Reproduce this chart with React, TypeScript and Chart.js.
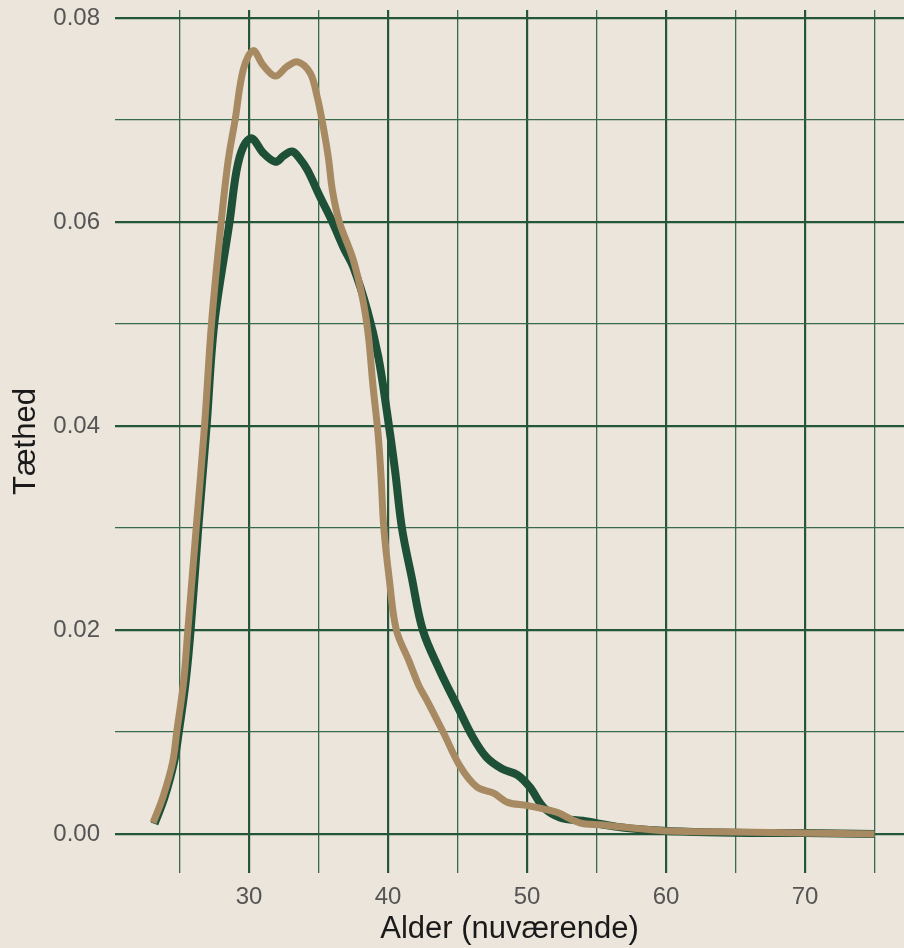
import React, { useEffect, useRef } from "react";
import { Chart, registerables } from "chart.js";

Chart.register(...registerables);

// Ages (x) and densities (y)
const tanAge = [23.1, 23.8, 24.5, 24.8, 25.3, 25.6, 26.2, 26.8, 27.3, 28.0, 28.5, 29.0, 29.6, 30.3, 31.0, 31.9, 32.7, 33.5, 34.4, 34.9, 35.25, 35.7, 36.0, 36.5, 37.5, 38.2, 38.6, 38.9, 39.3, 39.5, 39.7, 40.1, 40.6, 41.5, 42.2, 42.8, 44.0, 45.2, 46.4, 47.6, 48.6, 50.0, 51.4, 52.2, 53.8, 55.3, 57.6, 60.1, 65, 70, 75];
const tanDensity = [0.0011, 0.0036, 0.007, 0.01, 0.015, 0.02, 0.03, 0.04, 0.05, 0.06, 0.066, 0.07, 0.075, 0.0768, 0.0754, 0.0743, 0.0752, 0.0757, 0.0746, 0.0723, 0.07, 0.0664, 0.0631, 0.06, 0.0563, 0.0523, 0.0487, 0.0442, 0.039, 0.035, 0.03, 0.0249, 0.02, 0.017, 0.0146, 0.0131, 0.0099, 0.0066, 0.0046, 0.004, 0.0031, 0.0028, 0.0024, 0.0021, 0.0011, 0.0009, 0.0006, 0.0003, 0.0002, 0.0001, 0.0];

const greenAge = [23.2, 23.9, 24.6, 24.95, 25.45, 25.8, 26.35, 26.95, 27.5, 28.6, 29.1, 29.6, 30.2, 31.0, 31.9, 32.5, 33.1, 33.6, 34.2, 35.1, 36.0, 36.8, 37.5, 38.5, 39.3, 39.9, 40.5, 41.0, 41.7, 42.5, 43.7, 45.0, 46.1, 47.1, 48.2, 49.3, 50.2, 51.2, 52.4, 54.0, 56.5, 58.8, 62, 66, 70, 75];
const greenDensity = [0.001, 0.0035, 0.007, 0.01, 0.015, 0.02, 0.03, 0.04, 0.05, 0.06, 0.065, 0.0674, 0.0682, 0.0668, 0.0659, 0.0665, 0.0669, 0.0663, 0.0651, 0.0625, 0.06, 0.0575, 0.0556, 0.0514, 0.0468, 0.0416, 0.0357, 0.03, 0.0252, 0.02, 0.0161, 0.0125, 0.0095, 0.0075, 0.0064, 0.0058, 0.0046, 0.0026, 0.0016, 0.0013, 0.0007, 0.0004, 0.0002, 0.0001, 0.0001, 0.0];

const xTicks = [25, 30, 35, 40, 45, 50, 55, 60, 65, 70, 75];
const yTicks = [0, 0.01, 0.02, 0.03, 0.04, 0.05, 0.06, 0.07, 0.08];

const xTitle = "Alder (nuværende)";
const yTitle = "Tæthed";

const BG = "#EBE5DB";
const TAN = "#A88A62";
const GREEN = "#1E5037";
const GRID_MAJOR = "#245639";
const GRID_MINOR = "#3A6A4D";

export default function App() {
  const ref = useRef<HTMLCanvasElement | null>(null);

  useEffect(() => {
    document.body.style.margin = "0";
    document.body.style.background = BG;
    const canvas = ref.current;
    if (!canvas) return;

    const toPts = (xs: number[], ys: number[]) => xs.map((x, i) => ({ x, y: ys[i] }));

    const chart = new Chart(canvas, {
      type: "line",
      data: {
        datasets: [
          {
            label: "tan",
            data: toPts(tanAge, tanDensity),
            borderColor: TAN,
            borderWidth: 7,
            pointRadius: 0,
            tension: 0.35,
            borderJoinStyle: "round",
            fill: false,
            order: 0,
          },
          {
            label: "green",
            data: toPts(greenAge, greenDensity),
            borderColor: GREEN,
            borderWidth: 8,
            pointRadius: 0,
            tension: 0.35,
            borderJoinStyle: "round",
            fill: false,
            order: 1,
          },
        ],
      },
      options: {
        animation: false,
        responsive: false,
        maintainAspectRatio: false,
        layout: { padding: { top: 10, left: 0, right: 0, bottom: 0 } },
        plugins: { legend: { display: false }, tooltip: { enabled: false } },
        scales: {
          x: {
            type: "linear",
            min: 20.36,
            max: 77.12,
            afterBuildTicks: (s: any) => {
              s.ticks = xTicks.map((v) => ({ value: v }));
            },
            afterFit: (s: any) => {
              s.height = 75;
              s.paddingLeft = 0;
              s.paddingRight = 0;
              s.paddingTop = 0;
              s.paddingBottom = 0;
            },
            ticks: {
              autoSkip: false,
              maxRotation: 0,
              padding: 10,
              color: "#555555",
              font: { family: "'Liberation Sans', Arial, sans-serif", size: 24 },
              callback: (v: any) => (Number(v) % 10 === 0 ? String(v) : ""),
            },
            grid: {
              drawTicks: false,
              color: (c: any) => (c.tick && c.tick.value % 10 === 0 ? GRID_MAJOR : GRID_MINOR),
              lineWidth: (c: any) => (c.tick && c.tick.value % 10 === 0 ? 2.2 : 1.3),
            },
            border: { display: false },
            title: {
              display: true,
              text: xTitle,
              color: "#1a1a1a",
              padding: { top: 0, bottom: 0 },
              font: { family: "'Liberation Sans', Arial, sans-serif", size: 31 },
            },
          },
          y: {
            type: "linear",
            min: -0.00382,
            max: 0.08078,
            afterBuildTicks: (s: any) => {
              s.ticks = yTicks.map((v) => ({ value: v }));
            },
            afterFit: (s: any) => {
              s.width = 115;
              s.paddingLeft = 0;
              s.paddingRight = 0;
              s.paddingTop = 0;
              s.paddingBottom = 0;
            },
            ticks: {
              autoSkip: false,
              padding: 15,
              color: "#555555",
              font: { family: "'Liberation Sans', Arial, sans-serif", size: 24 },
              callback: (v: any, i: number) => (i % 2 === 0 ? Number(v).toFixed(2) : ""),
            },
            grid: {
              drawTicks: false,
              color: (c: any) => (c.index % 2 === 0 ? GRID_MAJOR : GRID_MINOR),
              lineWidth: (c: any) => (c.index % 2 === 0 ? 2.2 : 1.3),
            },
            border: { display: false },
            title: {
              display: true,
              text: yTitle,
              color: "#1a1a1a",
              padding: { top: 8, bottom: 0 },
              font: { family: "'Liberation Sans', Arial, sans-serif", size: 31 },
            },
          },
        },
      },
    } as any);

    return () => chart.destroy();
  }, []);

  return (
    <div style={{ width: 904, height: 948, background: BG }}>
      <canvas ref={ref} width={904} height={948} style={{ display: "block", width: 904, height: 948 }} />
    </div>
  );
}
